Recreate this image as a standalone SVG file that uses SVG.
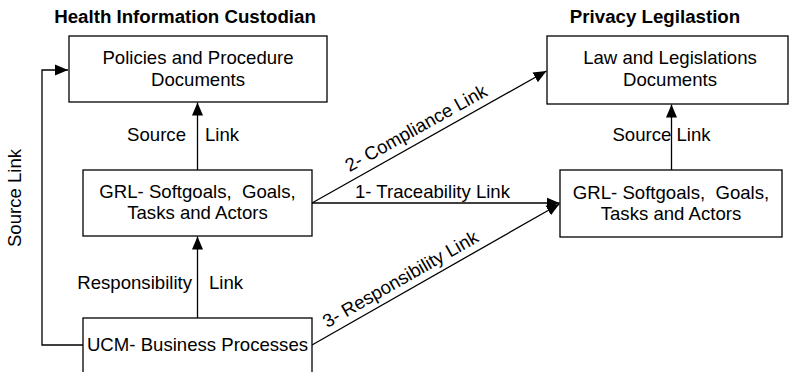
<svg xmlns="http://www.w3.org/2000/svg" width="789" height="372" viewBox="0 0 789 372">
<defs>
<style>
text{font-family:"Liberation Sans",Arial,sans-serif;font-size:18.6px;fill:#000}
.t{font-weight:bold;font-size:18.7px}
.m{text-anchor:middle}
.box{fill:#fff;stroke:#000;stroke-width:1.3}
.ln{fill:none;stroke:#000;stroke-width:1.3}
</style>
<marker id="ah" markerUnits="userSpaceOnUse" markerWidth="14" markerHeight="12" refX="13" refY="5.5" orient="auto" viewBox="0 0 14 11">
<path d="M0,0 L13,5.5 L0,11 z" fill="#000"/>
</marker>
</defs>
<rect width="789" height="372" fill="#fff"/>
<text class="t m" x="185" y="23">Health Information Custodian</text>
<text class="t m" x="655" y="23">Privacy Legilastion</text>
<g id="connectors">
<polyline class="ln" points="83,345 42,345 42,70 68,70" marker-end="url(#ah)"/>
<line class="ln" x1="197.5" y1="318" x2="197.5" y2="236.5" marker-end="url(#ah)"/>
<line class="ln" x1="197.5" y1="170" x2="197.5" y2="102.5" marker-end="url(#ah)"/>
<line class="ln" x1="671.5" y1="170" x2="671.5" y2="104.5" marker-end="url(#ah)"/>
<line class="ln" x1="312" y1="203" x2="546.5" y2="71" marker-end="url(#ah)"/>
<line class="ln" x1="312" y1="203" x2="559.5" y2="203" marker-end="url(#ah)"/>
<line class="ln" x1="312" y1="345" x2="559.5" y2="204" marker-end="url(#ah)"/>
<text class="m" transform="translate(21,198) rotate(-90)">Source Link</text>
<text x="186" y="141" text-anchor="end">Source</text>
<text x="205" y="141">Link</text>
<text x="192" y="289" text-anchor="end">Responsibility</text>
<text x="209" y="289">Link</text>
<text class="m" x="661.5" y="141">Source Link</text>
<text class="m" x="432.5" y="198">1- Traceability Link</text>
<text class="m" transform="translate(423,140.6) rotate(-29.1)" y="-8">2- Compliance Link</text>
<text class="m" transform="translate(407,290.6) rotate(-29.8)" y="-7">3- Responsibility Link</text>
</g>
<g id="policies">
<rect class="box" x="69" y="36" width="258" height="66"/>
<text class="m" x="198" y="64">Policies and Procedure</text>
<text class="m" x="198" y="86">Documents</text>
</g>
<g id="grl-left">
<rect class="box" x="83" y="170" width="229" height="66"/>
<text class="m" x="197.5" y="198" xml:space="preserve">GRL- Softgoals,  Goals,</text>
<text class="m" x="197.5" y="219">Tasks and Actors</text>
</g>
<g id="ucm">
<rect class="box" x="83" y="318" width="229" height="60"/>
<text class="m" x="197.5" y="351">UCM- Business Processes</text>
</g>
<g id="law">
<rect class="box" x="547" y="36" width="241" height="68"/>
<text class="m" x="670" y="64">Law and Legislations</text>
<text class="m" x="670" y="86">Documents</text>
</g>
<g id="grl-right">
<rect class="box" x="560" y="170" width="222" height="67"/>
<text class="m" x="671" y="199" xml:space="preserve">GRL- Softgoals,  Goals,</text>
<text class="m" x="671" y="220">Tasks and Actors</text>
</g>
</svg>
